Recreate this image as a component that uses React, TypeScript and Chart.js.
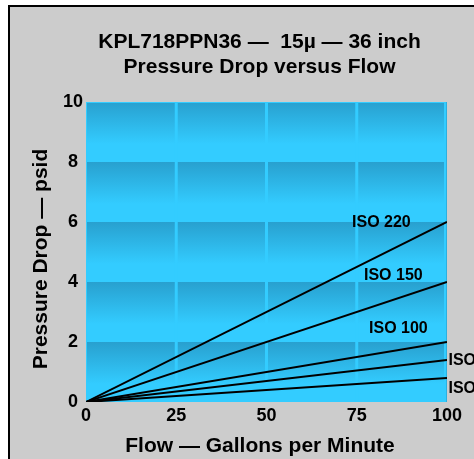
import React, { useEffect, useRef } from "react";
import { Chart, registerables } from "chart.js";

Chart.register(...registerables);

// ---- data ----
const flow = [0, 100];
const iso220 = [0, 6.0];
const iso150 = [0, 4.0];
const iso100 = [0, 2.0];
const isoLow1 = [0, 1.4];
const isoLow2 = [0, 0.8];
const seriesNames = ["ISO 220", "ISO 150", "ISO 100", "ISO", "ISO"];
const seriesValues = [iso220, iso150, iso100, isoLow1, isoLow2];
// label anchors in data units (left edge x, baseline y)
const labelX = [73.7, 77.0, 78.4, 100.4, 100.4];
const labelY = [5.83, 4.07, 2.3, 1.23, 0.3];
const xTickStep = 25;
const yTickStep = 2;
const xMax = 100;
const yMax = 10;
const titleLines = ["KPL718PPN36 \u2014  15\u00b5 \u2014 36 inch", "Pressure Drop versus Flow"];
const xTitle = "Flow \u2014 Gallons per Minute";
const yTitle = "Pressure Drop \u2014 psid";

const FONT = "'Liberation Sans', Arial, Helvetica, sans-serif";
const W = 474;
const H = 459;

const decorPlugin = {
  id: "decor",
  beforeDraw(chart: any) {
    const ctx = chart.ctx;
    ctx.save();
    ctx.fillStyle = "#ffffff";
    ctx.fillRect(0, 0, W, H);
    ctx.fillStyle = "#cccccc";
    ctx.fillRect(10, 7, W - 10, H - 7);
    ctx.fillStyle = "#000000";
    ctx.fillRect(8, 5, 2, H - 5);
    ctx.fillRect(8, 5, W - 8, 2);
    ctx.restore();
  },
  beforeDatasetsDraw(chart: any) {
    const ctx = chart.ctx;
    const x = chart.scales.x;
    const y = chart.scales.y;
    const left = x.getPixelForValue(0);
    const right = x.getPixelForValue(xMax);
    ctx.save();
    for (let v = 0; v < yMax; v += yTickStep) {
      const yt = y.getPixelForValue(v + yTickStep);
      const yb = y.getPixelForValue(v);
      const g = ctx.createLinearGradient(0, yt, 0, yb);
      g.addColorStop(0, "#28a0cf");
      g.addColorStop(0.7, "#33ccff");
      g.addColorStop(1, "#33ccff");
      ctx.fillStyle = g;
      ctx.fillRect(left, yt, right - left, yb - yt);
    }
    ctx.fillStyle = "#33ccff";
    const top = y.getPixelForValue(yMax);
    const bottom = y.getPixelForValue(0);
    ctx.fillRect(left, top, right - left, 1);
    ctx.fillRect(left, top, 1, bottom - top);
    for (let v = xTickStep; v < xMax; v += xTickStep) {
      const px = x.getPixelForValue(v);
      ctx.fillRect(px - 1.5, top, 3, bottom - top);
    }
    ctx.fillRect(right - 3, top, 3, bottom - top);
    ctx.fillStyle = "#2bb0e0";
    ctx.fillRect(right - 1, top, 1, bottom - top);
    ctx.restore();
  },
  afterDraw(chart: any) {
    const ctx = chart.ctx;
    const x = chart.scales.x;
    const y = chart.scales.y;
    ctx.save();
    ctx.fillStyle = "#000000";
    ctx.textBaseline = "alphabetic";
    // title
    ctx.font = `bold 21px ${FONT}`;
    ctx.textAlign = "center";
    ctx.fillText(titleLines[0], 259.5, 48);
    ctx.fillText(titleLines[1], 259.5, 73);
    // x title
    ctx.fillText(xTitle, 260, 452);
    // y title
    ctx.save();
    ctx.translate(47, 259);
    ctx.rotate(-Math.PI / 2);
    ctx.fillText(yTitle, 0, 0);
    ctx.restore();
    // series labels
    ctx.font = `bold 16px ${FONT}`;
    ctx.textAlign = "left";
    for (let i = 0; i < seriesNames.length; i++) {
      ctx.fillText(seriesNames[i], x.getPixelForValue(labelX[i]), y.getPixelForValue(labelY[i]));
    }
    ctx.restore();
  },
};

export default function App() {
  const ref = useRef<HTMLCanvasElement | null>(null);
  useEffect(() => {
    if (!ref.current) return;
    const chart = new Chart(ref.current, {
      type: "line",
      data: {
        datasets: seriesValues.map((vals, i) => ({
          label: seriesNames[i],
          data: flow.map((f, j) => ({ x: f, y: vals[j] })),
          borderColor: "#000000",
          borderWidth: 2,
          pointRadius: 0,
          fill: false,
          tension: 0,
        })),
      },
      options: {
        animation: false,
        responsive: false,
        devicePixelRatio: 1,
        layout: { padding: { top: 102, right: 27, left: 0, bottom: 0 } },
        plugins: {
          legend: { display: false },
          title: { display: false },
          tooltip: { enabled: false },
        },
        scales: {
          x: {
            type: "linear",
            min: 0,
            max: xMax,
            grid: { display: false, drawTicks: false },
            border: { display: false },
            ticks: {
              stepSize: xTickStep,
              color: "#000000",
              padding: 3,
              maxRotation: 0,
              font: { family: FONT, size: 18, weight: "bold" },
            },
            afterFit: (s: any) => {
              s.height = 57;
            },
          },
          y: {
            type: "linear",
            min: 0,
            max: yMax,
            grid: { display: false, drawTicks: false },
            border: { display: false },
            ticks: {
              stepSize: yTickStep,
              color: "#000000",
              padding: 3,
              crossAlign: "center",
              font: { family: FONT, size: 18, weight: "bold" },
            },
            afterFit: (s: any) => {
              s.width = 86;
            },
          },
        },
      },
      plugins: [decorPlugin],
    });
    return () => chart.destroy();
  }, []);
  return (
    <div style={{ position: "fixed", left: 0, top: 0, width: W, height: H }}>
      <canvas ref={ref} width={W} height={H} style={{ display: "block", width: W, height: H }} />
    </div>
  );
}
